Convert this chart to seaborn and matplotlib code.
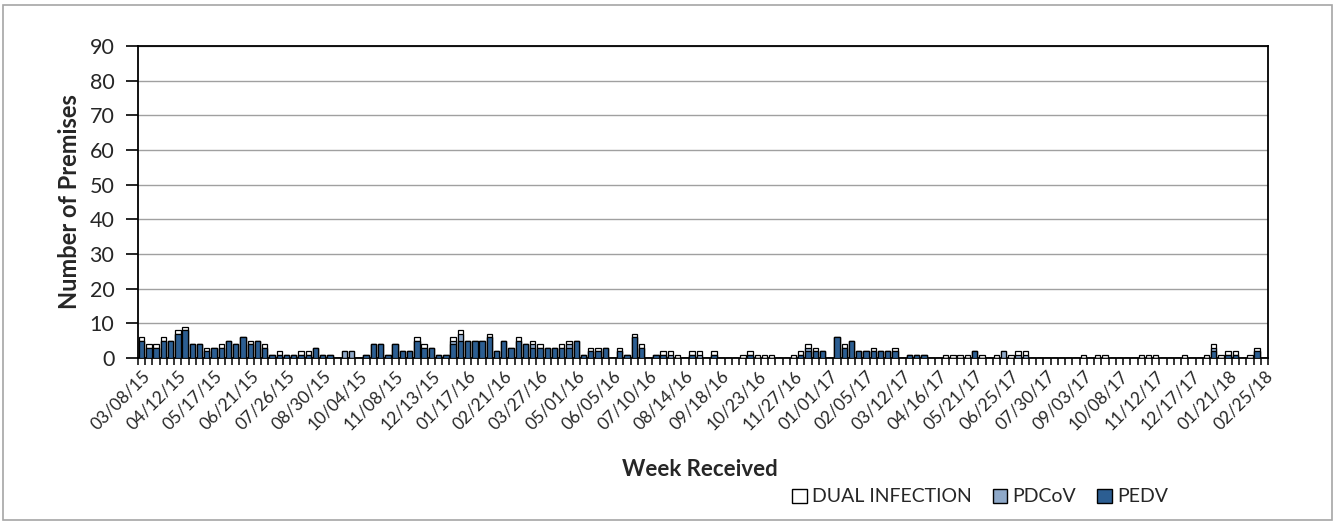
import numpy as np
import pandas as pd
import matplotlib
matplotlib.use("Agg")
import matplotlib.pyplot as plt
import matplotlib.patches as mpatches
import seaborn as sns

sns.set_style("white")
plt.rcParams['font.family'] = ['Lato', 'DejaVu Sans']

# ---- data ----
weeks = pd.date_range("2015-03-08", periods=156, freq="7D").strftime("%m/%d/%y").tolist()

dual = [1,1,1,1,0,1,1,0,0,1,
        0,1,0,0,0,1,0,1,0,1,
        0,0,1,1,0,0,0,0,0,0,
        0,0,0,0,0,0,0,0,1,1,
        0,0,0,1,1,0,0,0,1,0,
        0,0,1,0,1,1,0,0,1,1,
        0,0,1,1,0,0,1,0,1,1,
        0,0,1,1,1,0,1,1,0,1,
        0,0,0,1,1,1,1,1,0,0,
        1,1,1,1,0,0,0,1,0,0,
        0,1,0,0,1,0,0,0,0,0,
        0,1,1,1,1,0,1,0,1,0,
        1,1,1,0,0,0,0,0,0,0,
        1,0,1,1,0,0,0,0,1,1,
        1,0,0,0,1,0,0,1,1,1,
        1,1,0,1,1,0]

pdcov = [0,0,0,0,0,0,0,0,0,0,
         0,0,0,0,0,0,0,0,0,0,
         0,0,0,0,0,0,0,0,2,2,
         0,0,0,0,0,0,0,0,0,0,
         0,0,0,1,2,0,0,0,0,0,
         0,0,0,0,1,0,0,0,0,1,
         0,0,0,0,0,0,0,0,0,0,
         0,0,0,1,0,0,0,1,0,0,
         0,0,0,0,0,0,0,0,0,0,
         0,0,1,0,0,0,0,0,0,0,
         0,0,0,0,0,0,0,0,0,0,
         0,0,0,0,0,0,0,0,0,2,
         0,1,1,0,0,0,0,0,0,0,
         0,0,0,0,0,0,0,0,0,0,
         0,0,0,0,0,0,0,0,1,0,
         0,0,0,0,0,0]

pedv = [5,3,3,5,5,7,8,4,4,2,
        3,3,5,4,6,4,5,3,1,1,
        1,1,1,1,3,1,1,0,0,0,
        0,1,4,4,1,4,2,2,5,3,
        3,1,1,4,5,5,5,5,6,2,
        5,3,5,4,3,3,3,3,3,3,
        5,1,2,2,3,0,2,1,6,3,
        0,1,1,0,0,0,1,0,0,1,
        0,0,0,0,1,0,0,0,0,0,
        0,1,2,2,2,0,6,3,5,2,
        2,2,2,2,2,0,1,1,1,0,
        0,0,0,0,0,2,0,0,0,0,
        0,0,0,0,0,0,0,0,0,0,
        0,0,0,0,0,0,0,0,0,0,
        0,0,0,0,0,0,0,0,2,0,
        1,1,0,0,2,0]

series_names = ["DUAL INFECTION", "PDCoV", "PEDV"]
colors = {"DUAL INFECTION": "#FFFFFF", "PDCoV": "#8FA9C9", "PEDV": "#2C5E92"}

df = pd.DataFrame({"week": weeks, "DUAL INFECTION": dual, "PDCoV": pdcov, "PEDV": pedv})
df["total"] = df["DUAL INFECTION"] + df["PDCoV"] + df["PEDV"]
df["pedv_pdcov"] = df["PDCoV"] + df["PEDV"]

fig = plt.figure(figsize=(13.35, 5.23), dpi=100)
ax = fig.add_axes([138/1335, 1-358/523, (1268-138)/1335, (358-46)/523])

bw = 0.74
common = dict(x="week", order=weeks, ax=ax, width=bw, edgecolor="black",
              linewidth=0.9, saturation=1, errorbar=None, zorder=3)
sns.barplot(data=df, y="total", color=colors["DUAL INFECTION"], **common)
sns.barplot(data=df, y="pedv_pdcov", color=colors["PDCoV"], **common)
sns.barplot(data=df, y="PEDV", color=colors["PEDV"], **common)

ax.set_xlim(-0.5, len(weeks) - 0.5)
ax.set_ylim(0, 90)
ax.set_yticks(np.arange(0, 91, 10))
ax.tick_params(axis="y", labelsize=15.5, length=9, width=1.2, direction="out",
               left=True, color="black", pad=8)
ax.yaxis.grid(True, color="#A0A0A0", linewidth=1.0, zorder=0)
ax.set_axisbelow(True)

# boundary ticks (major) and centred labels (minor)
ax.set_xticks(np.arange(-0.5, len(weeks), 1.0))
ax.set_xticklabels([])
ax.tick_params(axis="x", which="major", length=5, width=1.1, direction="out",
               bottom=True, color="black")
lab_pos = np.arange(0, len(weeks), 5)
ax.set_xticks(lab_pos, minor=True)
ax.set_xticklabels([weeks[i] for i in lab_pos], minor=True, rotation=45,
                   ha="right", rotation_mode="anchor", fontsize=12.5)
ax.tick_params(axis="x", which="minor", length=0, pad=7)

for s in ax.spines.values():
    s.set_visible(True)
    s.set_color("black")
    s.set_linewidth(1.3)

ax.set_ylabel("Number of Premises", fontsize=17, fontweight="bold", labelpad=6)
ax.set_xlabel("")
fig.text(700/1335, 1-470/523, "Week Received", fontsize=16, fontweight="bold",
         ha="center", va="center")

handles = [mpatches.Patch(facecolor=colors[n], edgecolor="black", linewidth=1.0, label=n)
           for n in series_names]
fig.legend(handles=handles, loc="center", bbox_to_anchor=(980/1335, 1-497/523),
           ncol=3, frameon=False, fontsize=14, handlelength=0.75, handleheight=0.75,
           handletextpad=0.25, columnspacing=1.1)

# outer chart border
fig.patches.append(mpatches.Rectangle((3/1335, 3/523), 1329/1335, 515/523,
                                      transform=fig.transFigure, fill=False,
                                      edgecolor="#A6A6A6", linewidth=1.2))

fig.savefig("out.png", dpi=100)
